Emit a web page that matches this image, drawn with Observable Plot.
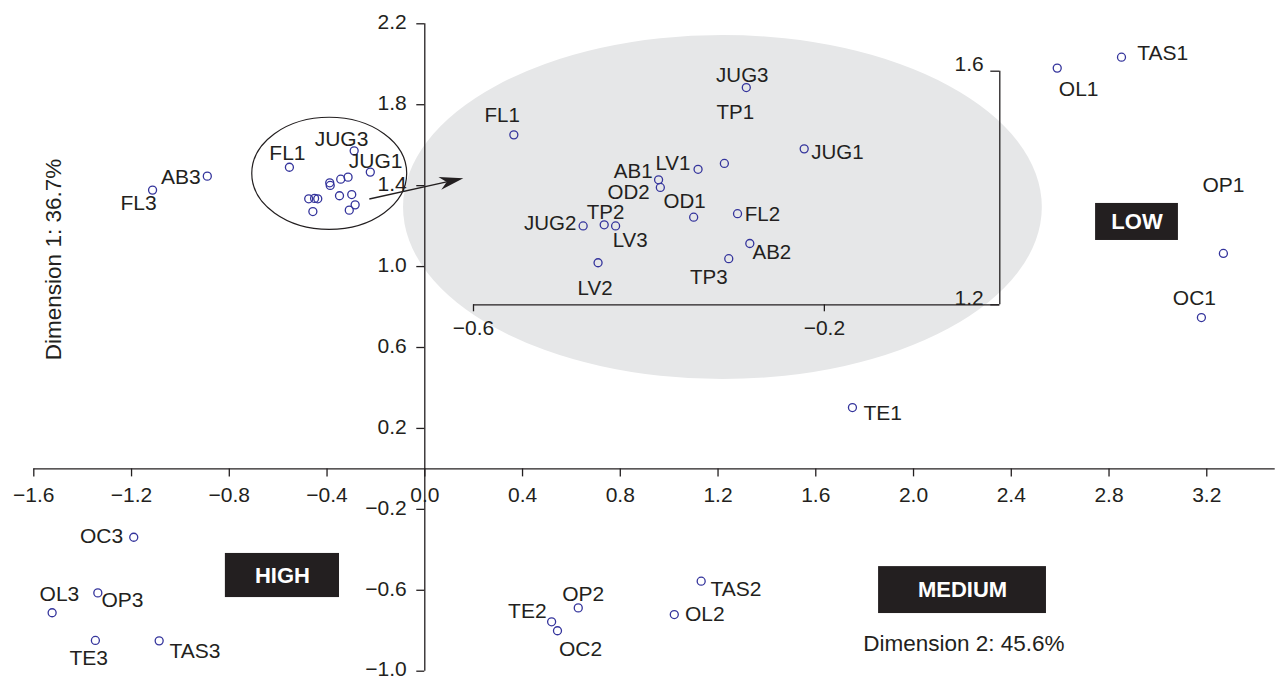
<!DOCTYPE html>
<html><head><meta charset="utf-8">
<script src="https://cdn.jsdelivr.net/npm/d3@7"></script>
<script src="https://cdn.jsdelivr.net/npm/@observablehq/plot@0.6"></script>
<style>
html,body{margin:0;padding:0;background:#fff;}
#wrap{position:relative;width:1278px;height:681px;overflow:hidden;}
#wrap svg{position:absolute;left:0;top:0;}
</style></head><body><div id="wrap"></div>
<script>
// ---------- data ----------
// samples plotted on the main plane (x = Dimension 2, y = Dimension 1)
const names = ["TAS1","OL1","OP1","OC1","TE1","AB3","FL3","OC3","OL3","OP3","TE3","TAS3","OP2","TE2","OC2","OL2","TAS2"];
const dim2  = [2.851, 2.588, 3.268, 3.178, 1.750, -0.890, -1.114, -1.191, -1.525, -1.338, -1.348, -1.087, 0.628, 0.519, 0.543, 1.021, 1.131];
const dim1  = [2.035, 1.981, 1.065, 0.748, 0.303, 1.447, 1.378, -0.338, -0.711, -0.613, -0.848, -0.850, -0.687, -0.756, -0.800, -0.720, -0.555];

// tight cluster (small in the main plane, magnified in the inset)
const clusterNames = ["FL1","JUG3","TP1","JUG1","LV1","AB1","OD2","OD1","FL2","JUG2","TP2","LV3","AB2","TP3","LV2"];
const clusterDim2  = [-0.554,-0.289,-0.314,-0.223,-0.344,-0.389,-0.387,-0.349,-0.299,-0.475,-0.451,-0.438,-0.285,-0.309,-0.458];
const clusterDim1  = [1.491, 1.572, 1.442, 1.467, 1.432, 1.414, 1.401, 1.350, 1.356, 1.335, 1.337, 1.335, 1.305, 1.279, 1.272];

// axis ticks
const xTicks  = [-1.6,-1.2,-0.8,-0.4,0,0.4,0.8,1.2,1.6,2.0,2.4,2.8,3.2];
const xLabels = ["\u22121.6","\u22121.2","\u22120.8","\u22120.4","0.0","0.4","0.8","1.2","1.6","2.0","2.4","2.8","3.2"];
const yTicks  = [2.2,1.8,1.4,1.0,0.6,0.2,-0.2,-0.6,-1.0];
const yLabels = ["2.2","1.8","1.4","1.0","0.6","0.2","\u22120.2","\u22120.6","\u22121.0"];
const insetXTicks  = [-0.6,-0.2];
const insetXLabels = ["\u22120.6","\u22120.2"];
const insetYTicks  = [1.6,1.2];
const insetYLabels = ["1.6","1.2"];

// zone boxes and axis titles
const zones  = ["LOW","HIGH","MEDIUM"];
const zoneX1 = [2.745,-0.816,1.857];
const zoneX2 = [3.084,-0.349,2.544];
const zoneY1 = [1.312,-0.418,-0.483];
const zoneY2 = [1.129,-0.636,-0.715];
const titleY = "Dimension 1: 36.7%";
const titleX = "Dimension 2: 45.6%";

// ---------- styling ----------
const INK = "#231f20", BLUE = "#34349c", FONT = "Liberation Sans, Arial, Helvetica, sans-serif", FS = 21;

// label placement: [anchor, dx, dy] in pixels
const mainLab = {
  TAS1:["start",15.7,-4.4], OL1:["start",1.6,21.6], OP1:["middle",0,-68], OC1:["middle",-7,-19],
  TE1:["start",11,6], AB3:["end",-6.7,1], FL3:["middle",-14,13.6], OC3:["end",-10.6,-1],
  OL3:["middle",7.3,-18.3], OP3:["start",3.7,7.7], TE3:["middle",-6.7,18.3], TAS3:["start",10.3,10.4],
  OP2:["middle",5,-13.3], TE2:["end",-5,-10.6], OC2:["middle",23,19], OL2:["start",10.6,0], TAS2:["start",9.3,7.6]
};
const mainClusterLab = {FL1:["middle",-2,-14], JUG3:["middle",-12.7,-11.7], JUG1:["middle",5.3,-11.3]};
const insetLab = {
  FL1:["middle",-11.6,-19.4], JUG3:["middle",-4,-12], TP1:["middle",11,-51], JUG1:["start",7,4],
  LV1:["end",-7.7,-6], AB1:["end",-6,-8.5], OD2:["end",-10.7,5], OD1:["middle",-9,-15.6],
  FL2:["start",7.3,0.6], JUG2:["end",-6.7,-3], TP2:["middle",1.3,-12], LV3:["middle",14.6,14.2],
  AB2:["start",2.7,9], TP3:["middle",-20,18.6], LV2:["middle",-3,26]
};

function labels(nm, xs, ys, fmt, fs) {
  return Object.keys(fmt).map(k => {
    const i = nm.indexOf(k);
    const [anchor, dx, dy] = fmt[k];
    return Plot.text([i], {x: j => xs[j], y: j => ys[j], text: j => nm[j],
      textAnchor: anchor, dx, dy, fontSize: fs, fontFamily: FONT, fill: INK});
  });
}

function ellipse(cx, cy, rx, ry, attrs) {
  return (index, scales) => {
    const X = scales.x, Y = scales.y;
    const e = d3.create("svg:ellipse")
      .attr("cx", X(cx)).attr("cy", Y(cy))
      .attr("rx", Math.abs(X(cx + rx) - X(cx))).attr("ry", Math.abs(Y(cy + ry) - Y(cy)));
    for (const k in attrs) e.attr(k, attrs[k]);
    return e.node();
  };
}

function arrow(x1, y1, x2, y2) {
  return (index, scales) => {
    const X = scales.x, Y = scales.y;
    const ax = X(x1), ay = Y(y1), bx = X(x2), by = Y(y2);
    const L = Math.hypot(bx - ax, by - ay), ux = (bx - ax) / L, uy = (by - ay) / L;
    const px = -uy, py = ux, hl = 24, hw = 6.5, notch = 17;
    const g = d3.create("svg:g");
    g.append("line").attr("x1", ax).attr("y1", ay)
      .attr("x2", bx - ux * notch).attr("y2", by - uy * notch)
      .attr("stroke", INK).attr("stroke-width", 1.3);
    const pts = [[bx, by], [bx - ux * hl + px * hw, by - uy * hl + py * hw],
                 [bx - ux * notch, by - uy * notch], [bx - ux * hl - px * hw, by - uy * hl - py * hw]];
    g.append("path").attr("d", "M" + pts.map(p => p.join(",")).join("L") + "Z").attr("fill", INK);
    return g.node();
  };
}

const xi = names.map((d, i) => i);
const ci = clusterNames.map((d, i) => i);

// ---------- main plane ----------
const main = Plot.plot({
  width: 1278, height: 681,
  marginLeft: 33.3, marginRight: 3.3, marginTop: 23.3, marginBottom: 10.3,
  x: {domain: [-1.6, 3.48], axis: null},
  y: {domain: [-1.0, 2.2], axis: null},
  style: {background: "transparent", fontFamily: FONT},
  marks: [
    ellipse(1.220, 1.292, 1.307, 0.850, {fill: "#e6e7e8"}),
    ellipse(-0.389, 1.4586, 0.317, 0.277, {fill: "none", stroke: INK, "stroke-width": 1.2}),
    Plot.ruleY([0], {stroke: INK, strokeWidth: 1.3}),
    Plot.ruleX([0], {stroke: INK, strokeWidth: 1.3}),
    Plot.ruleX(xTicks, {x: d => d, y1: () => 0, y2: () => 0, insetBottom: -8, stroke: INK, strokeWidth: 1.3}),
    Plot.ruleY(yTicks, {y: d => d, x1: () => 0, x2: () => 0, insetLeft: -8, stroke: INK, strokeWidth: 1.3}),
    Plot.text(xTicks, {x: d => d, y: () => 0, text: (d, i) => xLabels[i], dy: 26, fontSize: FS, fontFamily: FONT, fill: INK}),
    Plot.text(yTicks, {x: () => 0, y: d => d, text: (d, i) => yLabels[i], textAnchor: "end", dx: -18, dy: -1.5, fontSize: FS, fontFamily: FONT, fill: INK}),
    arrow(-0.225, 1.3315, 0.1596, 1.434),
    Plot.dot(xi, {x: i => dim2[i], y: i => dim1[i], r: 4, stroke: BLUE, strokeWidth: 1.3, fill: "none"}),
    Plot.dot(ci, {x: i => clusterDim2[i], y: i => clusterDim1[i], r: 4, stroke: BLUE, strokeWidth: 1.3, fill: "none"}),
    ...labels(names, dim2, dim1, mainLab, FS),
    ...labels(clusterNames, clusterDim2, clusterDim1, mainClusterLab, FS),
    Plot.rect(zones, {x1: (d, i) => zoneX1[i], x2: (d, i) => zoneX2[i], y1: (d, i) => zoneY1[i], y2: (d, i) => zoneY2[i], fill: INK}),
    Plot.text(zones, {x: (d, i) => (zoneX1[i] + zoneX2[i]) / 2, y: (d, i) => (zoneY1[i] + zoneY2[i]) / 2, text: d => d,
      fill: "white", fontWeight: "bold", fontSize: 22, fontFamily: FONT}),
    Plot.text([titleY], {x: () => -1.517, y: () => 1.035, text: d => d, rotate: -90, fontSize: 22.5, fontFamily: FONT, fill: INK}),
    Plot.text([titleX], {x: () => 2.206, y: () => -0.865, text: d => d, fontSize: 22.5, fontFamily: FONT, fill: INK})
  ]
});

// ---------- magnified inset ----------
const inset = Plot.plot({
  width: 1278, height: 681,
  marginLeft: 473, marginRight: 1278 - 999.3, marginTop: 70.7, marginBottom: 681 - 304.3,
  x: {domain: [-0.6, 0], axis: null},
  y: {domain: [1.2, 1.6], axis: null},
  style: {background: "transparent", fontFamily: FONT, overflow: "visible"},
  marks: [
    Plot.ruleY([1.2], {stroke: INK, strokeWidth: 1.3}),
    Plot.ruleX([0], {stroke: INK, strokeWidth: 1.3}),
    Plot.ruleX(insetXTicks, {x: d => d, y1: () => 1.2, y2: () => 1.2, insetBottom: -7, stroke: INK, strokeWidth: 1.3}),
    Plot.ruleY(insetYTicks, {y: d => d, x1: () => 0, x2: () => 0, insetLeft: -9, stroke: INK, strokeWidth: 1.3}),
    Plot.text(insetXTicks, {x: d => d, y: () => 1.2, text: (d, i) => insetXLabels[i], dy: 23, fontSize: FS, fontFamily: FONT, fill: INK}),
    Plot.text(insetYTicks, {x: () => 0, y: d => d, text: (d, i) => insetYLabels[i], textAnchor: "end", dx: -16, dy: -7, fontSize: FS, fontFamily: FONT, fill: INK}),
    Plot.dot(ci, {x: i => clusterDim2[i], y: i => clusterDim1[i], r: 4, stroke: BLUE, strokeWidth: 1.3, fill: "none"}),
    ...labels(clusterNames, clusterDim2, clusterDim1, insetLab, 20.5)
  ]
});

const wrap = document.getElementById("wrap");
wrap.appendChild(main);
wrap.appendChild(inset);
</script>
</body></html>
